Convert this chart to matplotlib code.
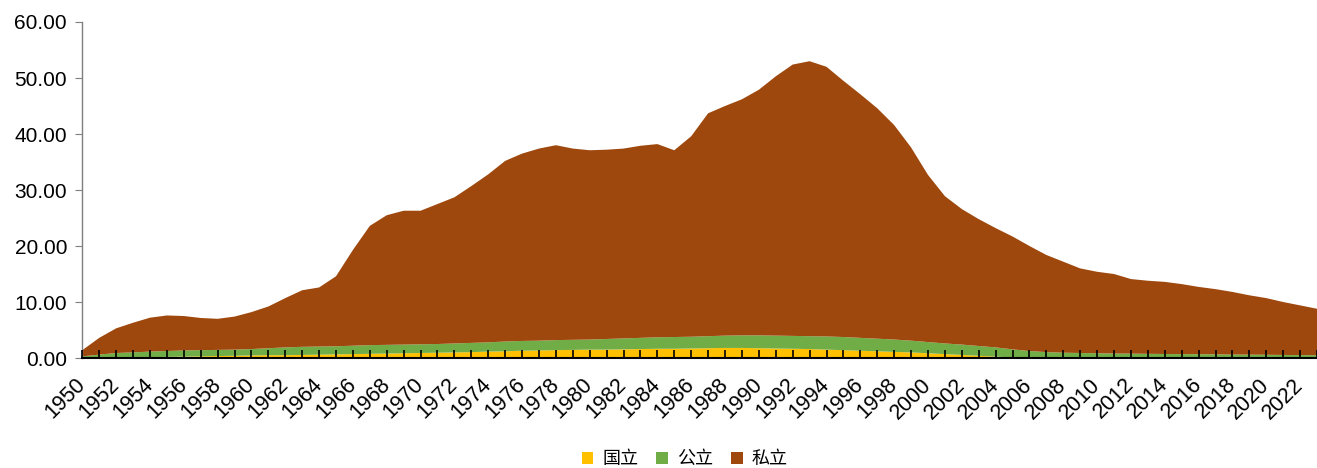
import matplotlib
matplotlib.use("Agg")
import matplotlib.pyplot as plt
from matplotlib.patches import Patch
import numpy as np

years = list(range(1950, 2024))

# top of each stack layer
national_top = [0.0, 0.0, 0.05, 0.1, 0.15, 0.2, 0.25, 0.3, 0.35, 0.4,
                0.45, 0.5, 0.5, 0.55, 0.6, 0.65, 0.7, 0.75, 0.8, 0.85,
                0.9, 0.95, 1.0, 1.05, 1.15, 1.2, 1.3, 1.35, 1.4, 1.45,
                1.5, 1.5, 1.55, 1.6, 1.65, 1.65, 1.7, 1.75, 1.8, 1.8,
                1.75, 1.7, 1.65, 1.6, 1.5, 1.4, 1.3, 1.2, 1.1, 1.0,
                0.85, 0.7, 0.55, 0.4, 0.25, 0.1, 0.05, 0.0, 0.0, 0.0,
                0.0, 0.0, 0.0, 0.0, 0.0, 0.0, 0.0, 0.0, 0.0, 0.0,
                0.0, 0.0, 0.0, 0.0]
public_top = [0.3, 0.6, 0.9, 1.0, 1.15, 1.25, 1.35, 1.4, 1.45, 1.5,
              1.6, 1.75, 1.9, 2.0, 2.05, 2.1, 2.2, 2.3, 2.35, 2.4,
              2.45, 2.5, 2.6, 2.7, 2.8, 2.95, 3.05, 3.1, 3.2, 3.25,
              3.3, 3.4, 3.5, 3.6, 3.7, 3.75, 3.8, 3.9, 4.0, 4.05,
              4.05, 4.0, 3.95, 3.9, 3.85, 3.75, 3.6, 3.45, 3.3, 3.1,
              2.85, 2.6, 2.4, 2.15, 1.9, 1.55, 1.25, 1.05, 0.95, 0.9,
              0.85, 0.8, 0.78, 0.75, 0.72, 0.7, 0.68, 0.65, 0.62, 0.6,
              0.58, 0.55, 0.52, 0.5]
total_top = [1.4, 3.6, 5.3, 6.3, 7.2, 7.6, 7.5, 7.15, 7.0, 7.4,
             8.2, 9.2, 10.7, 12.1, 12.6, 14.6, 19.3, 23.6, 25.5, 26.3,
             26.3, 27.5, 28.7, 30.7, 32.8, 35.2, 36.5, 37.4, 38.0, 37.4,
             37.1, 37.2, 37.4, 37.9, 38.2, 37.1, 39.6, 43.7, 45.0, 46.2,
             47.9, 50.3, 52.4, 53.0, 52.0, 49.5, 47.1, 44.6, 41.6, 37.6,
             32.7, 28.9, 26.6, 24.8, 23.2, 21.7, 20.0, 18.4, 17.2, 16.0,
             15.4, 15.0, 14.1, 13.8, 13.6, 13.2, 12.7, 12.3, 11.8, 11.2,
             10.7, 10.0, 9.4, 8.8]

national = np.array(national_top)
public = np.array(public_top) - np.array(national_top)
private = np.array(total_top) - np.array(public_top)

labels = ["国立", "公立", "私立"]
colors = ["#FFC000", "#70AD47", "#9E480E"]

plt.rcParams['font.family'] = ['Liberation Sans', 'DejaVu Sans']

fig = plt.figure(figsize=(13.17, 4.68), dpi=100)
ax = fig.add_axes([0.0625, 0.235, 0.9375, 0.718])

ax.stackplot(years, national, public, private, colors=colors, linewidth=0)

ax.set_xlim(1950, 2023)
ax.set_ylim(0, 60)
ax.set_yticks(np.arange(0, 61, 10))
ax.set_yticklabels([f"{v:.2f}" for v in np.arange(0, 61, 10)], fontsize=15)
ax.set_xticks(years)
ax.set_xticklabels([str(y) if y % 2 == 0 else "" for y in years],
                   rotation=45, ha='right', va='center', rotation_mode='anchor',
                   fontsize=15.5)

for s in ['top', 'right']:
    ax.spines[s].set_visible(False)
ax.spines['left'].set_color('#7f7f7f')
ax.spines['left'].set_linewidth(1.0)
ax.spines['bottom'].set_color('black')
ax.spines['bottom'].set_linewidth(1.5)
ax.spines['bottom'].set_zorder(5)
ax.tick_params(axis='y', direction='out', length=5, color='#7f7f7f', pad=6)
ax.tick_params(axis='x', direction='in', length=6, width=1.2, color='black', pad=17)
for t in ax.xaxis.get_major_ticks():
    t.tick1line.set_zorder(6)
ax.set_axisbelow(False)

handles = [Patch(facecolor=c, edgecolor='none') for c in colors]
fig.legend(handles, labels, loc='center', bbox_to_anchor=(0.52, 0.019),
           ncol=3, frameon=False, prop={'family': ['Noto Sans CJK SC'], 'size': 13},
           handlelength=0.65, handleheight=0.65, handletextpad=0.5, columnspacing=1.0)

fig.savefig("out.png", dpi=100)
